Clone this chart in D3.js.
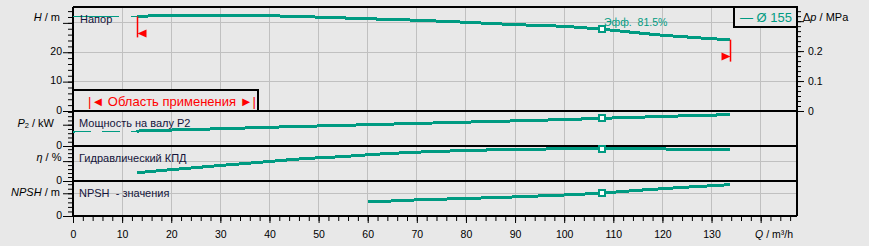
<!DOCTYPE html>
<html>
<head>
<meta charset="utf-8">
<script src="https://cdnjs.cloudflare.com/ajax/libs/d3/7.8.5/d3.min.js"></script>
<style>
  html, body { margin: 0; padding: 0; background: #e8e8e8; }
  svg { display: block; font-family: "Liberation Sans", Arial, sans-serif; }
  .tick text { font-size: 10.5px; fill: #000; }
</style>
</head>
<body>
<svg id="chart" width="869" height="246"></svg>
<script>
'use strict';

// Q in m3/h
var headQ = [13, 20, 30, 40, 50, 60, 70, 80, 90, 100, 107.8, 115, 120, 125, 130, 133.8];
var headH = [32.2, 32.5, 32.5, 32.4, 31.95, 31.4, 30.9, 30.2, 29.4, 28.8, 27.8, 26.6, 25.8, 25.2, 24.6, 24.3];
var headOutQ = [0, 13];
var headOutH = [32.1, 32.2];

var powerQ = [13, 20, 30, 40, 50, 60, 70, 80, 90, 100, 107.8, 115, 125, 133.8];
var powerP = [7.0, 7.5, 8.1, 8.8, 9.4, 10.0, 10.6, 11.2, 11.8, 12.4, 13.0, 13.5, 14.2, 14.7];
var powerOutQ = [0, 13];
var powerOutP = [6.6, 7.0];

var effQ = [13, 20, 30, 40, 46, 55, 62, 70, 80, 90, 100, 107.8, 115, 125, 133.8];
var effE = [20.9, 28.5, 39, 49, 55.3, 61.5, 67.5, 72.5, 76.8, 79.5, 81.0, 81.5, 81.2, 79.9, 78.2];

var npshQ = [60, 70, 80, 90, 100, 107.8, 115, 120, 125, 130, 133.8];
var npshN = [3.08, 3.55, 3.85, 4.2, 4.62, 5.05, 5.65, 6.0, 6.35, 6.65, 6.9];

var dutyQ = 107.8;
var rangeQ = [13, 133.8];
var xTicks = d3.range(0, 140, 10);

var green = '#009b82';
var red = '#ff0000';

var svg = d3.select('#chart');

// scales
var x = d3.scaleLinear().domain([0, 147.4]).range([73, 797]);
var yHead = d3.scaleLinear().domain([0, 35.4]).range([111, 7]);
var yDp = d3.scaleLinear().domain([0, 35.4 * 9810 / 1e6]).range([111, 7]);
var yPower = d3.scaleLinear().domain([0, 16.43]).range([146, 111]);
var yEff = d3.scaleLinear().domain([0, 88]).range([181, 146]);
var yNpsh = d3.scaleLinear().domain([0, 7.7]).range([216, 181]);

// grid
var grid = svg.append('g').attr('stroke', '#c0c0c0').attr('stroke-width', 1).attr('shape-rendering', 'crispEdges');
grid.selectAll('.v').data(d3.range(10, 150, 10)).enter().append('line')
  .attr('x1', function(d){ return x(d); }).attr('x2', function(d){ return x(d); })
  .attr('y1', 7).attr('y2', 216);
var hGrid = [[yHead, 10], [yHead, 20], [yHead, 30], [yEff, 50], [yNpsh, 5]];
grid.selectAll('.h').data(hGrid).enter().append('line')
  .attr('x1', 73).attr('x2', 797)
  .attr('y1', function(d){ return d[0](d[1]); }).attr('y2', function(d){ return d[0](d[1]); });

// left axes, minor + major ticks
function leftAxis(scale, minor, major, labels){
  svg.append('g').attr('transform', 'translate(73,0)')
    .call(d3.axisLeft(scale).tickValues(minor).tickSize(5).tickFormat(''))
    .call(function(g){ g.select('.domain').remove(); });
  svg.append('g').attr('transform', 'translate(73,0)')
    .call(d3.axisLeft(scale).tickValues(major).tickSize(10).tickPadding(1)
      .tickFormat(function(d){ return labels.indexOf(d) >= 0 ? d : ''; }))
    .call(function(g){
      g.select('.domain').remove();
      g.selectAll('text').attr('dy', '0.22em');
    });
}
leftAxis(yHead, d3.range(0, 35, 2), [0, 10, 20, 30], [0, 10, 20]);
leftAxis(yPower, d3.range(0, 17, 2), [0, 10], [0]);
leftAxis(yEff, d3.range(0, 90, 10), [0, 50], [0]);
leftAxis(yNpsh, d3.range(0, 8, 1), [0, 5], [0]);

// right axis (pressure)
svg.append('g').attr('transform', 'translate(797,0)')
  .call(d3.axisRight(yDp).tickValues(d3.range(0, 0.345, 0.1 / 6)).tickSize(4).tickFormat(''))
  .call(function(g){ g.select('.domain').remove(); });
svg.append('g').attr('transform', 'translate(797,0)')
  .call(d3.axisRight(yDp).tickValues([0, 0.1, 0.2, 0.3]).tickSize(7).tickPadding(4)
    .tickFormat(function(d){ return d < 0.25 ? d3.format('.1~f')(d) : ''; }))
  .call(function(g){ g.select('.domain').remove(); });

// bottom axis
svg.append('g').attr('transform', 'translate(0,216)')
  .call(d3.axisBottom(x).tickValues(d3.range(0, 147, 2)).tickSize(5).tickFormat(''))
  .call(function(g){ g.select('.domain').remove(); });
svg.append('g').attr('transform', 'translate(0,216)')
  .call(d3.axisBottom(x).tickValues(xTicks.concat([140])).tickSize(7).tickPadding(8)
    .tickFormat(function(d){ return d < 135 ? d : ''; }))
  .call(function(g){ g.select('.domain').remove(); });

// frame and panel separators
var frame = svg.append('g').attr('stroke', '#000').attr('stroke-width', 2).attr('shape-rendering', 'crispEdges');
[7, 111, 146, 181, 216].forEach(function(y){
  frame.append('line').attr('x1', 73).attr('x2', 797).attr('y1', y).attr('y2', y);
});
frame.append('line').attr('x1', 73).attr('x2', 73).attr('y1', 7).attr('y2', 216);
frame.append('line').attr('x1', 797).attr('x2', 797).attr('y1', 7).attr('y2', 216);

// curves
function curve(qs, vs, scale, width, dash){
  var line = d3.line()
    .x(function(d){ return x(d[0]); })
    .y(function(d){ return scale(d[1]); })
    .curve(d3.curveMonotoneX);
  svg.append('path')
    .datum(d3.zip(qs, vs))
    .attr('d', line)
    .attr('fill', 'none')
    .attr('stroke', green)
    .attr('stroke-width', width)
    .attr('stroke-dasharray', dash || null)
    .attr('shape-rendering', 'crispEdges');
}
curve(headOutQ, headOutH, yHead, 1.2, '46,12');
curve(powerOutQ, powerOutP, yPower, 1.2, '18,11');
curve(headQ, headH, yHead, 3);
curve(powerQ, powerP, yPower, 3);
curve(effQ, effE, yEff, 3);
curve(npshQ, npshN, yNpsh, 3);

// duty point squares
var dutyPoints = [
  yHead(headH[headQ.indexOf(dutyQ)]),
  yPower(powerP[powerQ.indexOf(dutyQ)]),
  yEff(effE[effQ.indexOf(dutyQ)]),
  yNpsh(npshN[npshQ.indexOf(dutyQ)])
];
svg.selectAll('.duty').data(dutyPoints).enter().append('rect')
  .attr('x', x(dutyQ) - 3).attr('y', function(d){ return d - 3; })
  .attr('width', 6).attr('height', 6)
  .attr('fill', '#fff').attr('stroke', green).attr('stroke-width', 2)
  .attr('shape-rendering', 'crispEdges');

// application range markers
var xl = Math.round(x(rangeQ[0])) + 0.5;
var yl = yHead(headH[0]);
svg.append('line').attr('x1', xl).attr('x2', xl).attr('y1', yl).attr('y2', yl + 21)
  .attr('stroke', red).attr('stroke-width', 1.5);
svg.append('path').attr('d', 'M' + xl + ',' + (yl + 17) + 'L' + (xl + 9) + ',' + (yl + 13) + 'L' + (xl + 9) + ',' + (yl + 21) + 'Z')
  .attr('fill', red);
var xr = Math.round(x(rangeQ[1])) + 0.5;
var yr = yHead(headH[headH.length - 1]);
svg.append('line').attr('x1', xr).attr('x2', xr).attr('y1', yr).attr('y2', yr + 22)
  .attr('stroke', red).attr('stroke-width', 1.5);
svg.append('path').attr('d', 'M' + xr + ',' + (yr + 17) + 'L' + (xr - 9) + ',' + (yr + 13) + 'L' + (xr - 9) + ',' + (yr + 21) + 'Z')
  .attr('fill', red);

// application range box
svg.append('rect').attr('x', 73).attr('y', 90).attr('width', 185).attr('height', 21)
  .attr('fill', '#e8e8e8').attr('stroke', '#000').attr('stroke-width', 2)
  .attr('shape-rendering', 'crispEdges');
svg.append('text').attr('x', 88).attr('y', 106).attr('fill', red).style('font-size', '13px')
  .text('|\u25C4 Область применения \u25BA|');

// legend box
svg.append('rect').attr('x', 734).attr('y', 7).attr('width', 63).attr('height', 20)
  .attr('fill', '#e8e8e8').attr('stroke', '#000').attr('stroke-width', 2)
  .attr('shape-rendering', 'crispEdges');
svg.append('text').attr('x', 740).attr('y', 21.5).attr('fill', green).style('font-size', '13px')
  .text('\u2014 Ø 155');

// efficiency note at duty point
svg.append('text').attr('x', 604).attr('y', 25.5).attr('fill', green).style('font-size', '10.5px')
  .attr('xml:space', 'preserve').text('Эфф.  81.5%');

// panel names
var names = [['Напор', 80, 22.7], ['Мощность на валу P2', 79, 127.3],
  ['Гидравлический КПД', 79, 161.7], ['NPSH  - значения', 79, 196.7]];
svg.selectAll('.name').data(names).enter().append('text')
  .attr('x', function(d){ return d[1]; }).attr('y', function(d){ return d[2]; })
  .attr('fill', '#14143a').style('font-size', '11px').attr('xml:space', 'preserve')
  .text(function(d){ return d[0]; });

// unit labels
function unitLabel(xp, yp, sym, rest, anchor){
  var t = svg.append('text').attr('x', xp).attr('y', yp).attr('text-anchor', anchor || 'end')
    .attr('fill', '#000').style('font-size', '11px');
  t.append('tspan').style('font-style', 'italic').text(sym);
  return t.append('tspan').text(rest);
}
unitLabel(60, 21, 'H', ' / m');
var p2 = svg.append('text').attr('x', 54).attr('y', 126.7).attr('text-anchor', 'end').style('font-size', '11px');
p2.append('tspan').style('font-style', 'italic').text('P');
p2.append('tspan').attr('dy', 1.5).style('font-size', '7.5px').text('2');
p2.append('tspan').attr('dy', -1.5).text(' / kW');
unitLabel(61.5, 160.7, 'η', ' / %');
unitLabel(60, 195.5, 'NPSH', ' / m');

var dp = svg.append('text').attr('x', 803).attr('y', 21.3).style('font-size', '11px');
dp.append('tspan').text('Δ');
dp.append('tspan').style('font-style', 'italic').text('p');
dp.append('tspan').text(' / MPa');

var ql = svg.append('text').attr('x', 793).attr('y', 237.7).attr('text-anchor', 'end').style('font-size', '10.5px');
ql.append('tspan').style('font-style', 'italic').text('Q');
ql.append('tspan').text(' / m³/h');
</script>
</body>
</html>
